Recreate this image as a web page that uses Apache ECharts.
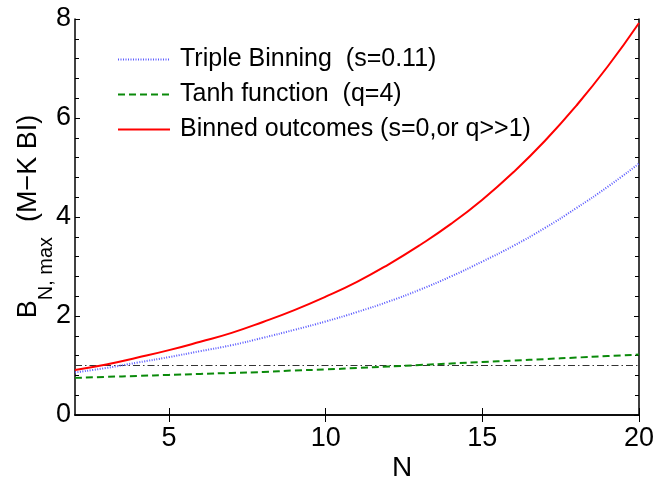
<!DOCTYPE html>
<html>
<head>
<meta charset="utf-8">
<script src="https://cdn.jsdelivr.net/npm/echarts@6/dist/echarts.min.js"></script>
<style>
  html, body { margin: 0; padding: 0; background: #fff; }
  #main { width: 668px; height: 479px; }
</style>
</head>
<body>
<div id="main"></div>
<script>
// N values and the three curves
var nValues = [2, 3, 4, 5, 6, 7, 8, 9, 10, 11, 12, 13, 14, 15, 16, 17, 18, 19, 20];
var tripleBinning = [0.86, 0.95, 1.06, 1.17, 1.29, 1.41, 1.56, 1.72, 1.89, 2.08, 2.29, 2.53, 2.80, 3.10, 3.42, 3.78, 4.18, 4.61, 5.08];
var tanhFunction = [0.75, 0.77, 0.79, 0.81, 0.83, 0.85, 0.87, 0.90, 0.92, 0.95, 0.98, 1.01, 1.04, 1.07, 1.10, 1.13, 1.16, 1.19, 1.22];
var binnedOutcomes = [0.91, 1.02, 1.16, 1.31, 1.48, 1.66, 1.88, 2.12, 2.39, 2.69, 3.04, 3.43, 3.86, 4.35, 4.91, 5.54, 6.25, 7.04, 7.92];
// horizontal reference at B = 1
var refN = [2, 20];
var refB = [1, 1];
var seriesNames = ['Triple Binning  (s=0.11)', 'Tanh function  (q=4)', 'Binned outcomes (s=0,or q>>1)'];
var xTicks = [5, 10, 15, 20];

function pairs(xs, ys) {
    return xs.map(function (x, i) { return [x, ys[i]]; });
}

var font = 'Liberation Sans, Arial, Helvetica, sans-serif';
var myChart = echarts.init(document.getElementById('main'));

var option = {
    animation: false,
    backgroundColor: '#fff',
    textStyle: { fontFamily: font },
    grid: { left: 75, right: 29, top: 19, bottom: 64 },
    legend: {
        data: seriesNames,
        orient: 'vertical',
        left: 112,
        top: 42,
        itemWidth: 52,
        itemHeight: 12,
        itemGap: 10,
        itemStyle: { opacity: 0 },
        textStyle: { fontSize: 25, lineHeight: 25, color: '#000', fontFamily: font, padding: [0, 0, 0, 5] }
    },
    xAxis: [
        {
            type: 'value', min: 2, max: 20, position: 'bottom',
            axisLine: { lineStyle: { color: '#000', width: 1.5 } },
            axisTick: { inside: true, length: 7, customValues: xTicks, lineStyle: { color: '#000' } },
            axisLabel: { customValues: xTicks, fontSize: 27, color: '#000', margin: 10, fontFamily: font },
            splitLine: { show: false }
        },
        {
            type: 'value', min: 2, max: 20, position: 'top',
            axisLine: { lineStyle: { color: '#000', width: 1.5 } },
            axisTick: { inside: true, length: 7, customValues: xTicks, lineStyle: { color: '#000' } },
            axisLabel: { show: false },
            splitLine: { show: false }
        }
    ],
    yAxis: [
        {
            type: 'value', min: 0, max: 8, interval: 2, position: 'left',
            axisLine: { show: true, lineStyle: { color: '#000', width: 1.5 } },
            axisTick: { show: true, inside: true, length: 5, lineStyle: { color: '#000' } },
            minorTick: { show: true, splitNumber: 5, length: 4, lineStyle: { color: '#000' } },
            axisLabel: { fontSize: 27, color: '#000', margin: 4, fontFamily: font },
            splitLine: { show: false }
        },
        {
            type: 'value', min: 0, max: 8, interval: 2, position: 'right',
            axisLine: { show: true, lineStyle: { color: '#000', width: 1.5 } },
            axisTick: { show: true, inside: true, length: 5, lineStyle: { color: '#000' } },
            minorTick: { show: true, splitNumber: 5, length: 4, lineStyle: { color: '#000' } },
            axisLabel: { show: false },
            splitLine: { show: false }
        }
    ],
    series: [
        {
            name: 'ref', type: 'line', data: pairs(refN, refB), showSymbol: false, symbol: 'none',
            lineStyle: { color: '#333', width: 1, type: [7, 3, 1.5, 3] }, z: 1
        },
        {
            name: seriesNames[0], type: 'line', data: pairs(nValues, tripleBinning), smooth: true, symbol: 'none',
            color: '#5a5aff',
            lineStyle: { color: '#5a5aff', width: 2, type: [1, 1.5] }, z: 2
        },
        {
            name: seriesNames[1], type: 'line', data: pairs(nValues, tanhFunction), smooth: true, symbol: 'none',
            color: '#0a8a0a',
            lineStyle: { color: '#0a8a0a', width: 2, type: [7, 4] }, z: 3
        },
        {
            name: seriesNames[2], type: 'line', data: pairs(nValues, binnedOutcomes), smooth: true, symbol: 'none',
            color: '#ff0000',
            lineStyle: { color: '#ff0000', width: 2 }, z: 4
        }
    ],
    graphic: [
        {
            type: 'text', x: 402, y: 468, z: 10,
            style: { text: 'N', fontSize: 28, fill: '#000', fontFamily: font, align: 'center', verticalAlign: 'middle' }
        },
        {
            type: 'text', x: 29.5, y: 216.5, rotation: Math.PI / 2, z: 10,
            style: {
                text: '{m|B}{s|N, max}{m|  (M\u2212K BI)}',
                align: 'center', verticalAlign: 'middle', fill: '#000', fontFamily: font,
                rich: {
                    m: { fontSize: 27, lineHeight: 28, verticalAlign: 'top', fill: '#000', fontFamily: font },
                    s: { fontSize: 20, lineHeight: 20, verticalAlign: 'top', padding: [21, 0, 0, 0], fill: '#000', fontFamily: font }
                }
            }
        }
    ]
};
myChart.setOption(option);
</script>
</body>
</html>
